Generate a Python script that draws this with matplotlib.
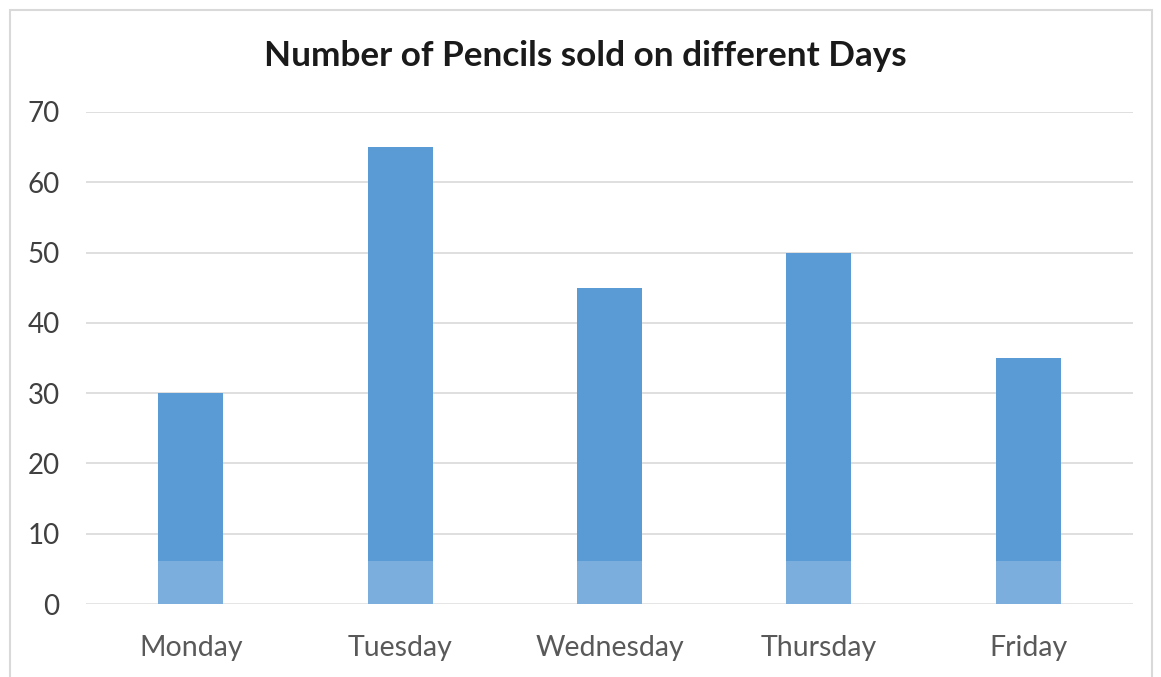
import matplotlib.pyplot as plt
import matplotlib.patches as mpatches

days = ["Monday", "Tuesday", "Wednesday", "Thursday", "Friday"]
pencils = [30, 65, 45, 50, 35]
yticks = [0, 10, 20, 30, 40, 50, 60, 70]

plt.rcParams['font.family'] = ['Lato', 'DejaVu Sans']

fig = plt.figure(figsize=(11.61, 6.77), dpi=100)
ax = fig.add_axes([0.0741, 0.1078, 0.9018, 0.7268])

# outer chart frame (runs off the bottom edge)
frame = mpatches.Rectangle((10 / 1161, -0.05), 1142 / 1161, 1 - 10 / 677 + 0.05,
                           transform=fig.transFigure, fill=False,
                           edgecolor="#D9D9D9", linewidth=1.5)
fig.patches.append(frame)

x = range(len(days))
ax.bar(x, pencils, width=0.31, color="#5B9BD5", zorder=3)

# faded band near the base of the bars, as in the source image
ax.axhspan(0, 6.1, color="white", alpha=0.2, zorder=4, lw=0)

ax.set_xlim(-0.5, len(days) - 0.5)
ax.set_ylim(0, 70)
ax.set_yticks(yticks)
ax.set_xticks(list(x))
ax.set_xticklabels(days)
ax.grid(axis="y", color="#D9D9D9", linewidth=1.2, zorder=0)
for s in ax.spines.values():
    s.set_visible(False)
ax.tick_params(axis="y", length=0, pad=19, labelsize=20, labelcolor="#404040")
ax.tick_params(axis="x", length=0, pad=22, labelsize=20.5, labelcolor="#595959")

fig.text(0.504, 1 - 56 / 677, "Number of Pencils sold on different Days",
         ha="center", va="center", fontsize=25.3, fontweight="bold", color="#1a1a1a")

fig.savefig("out.png", dpi=100)
